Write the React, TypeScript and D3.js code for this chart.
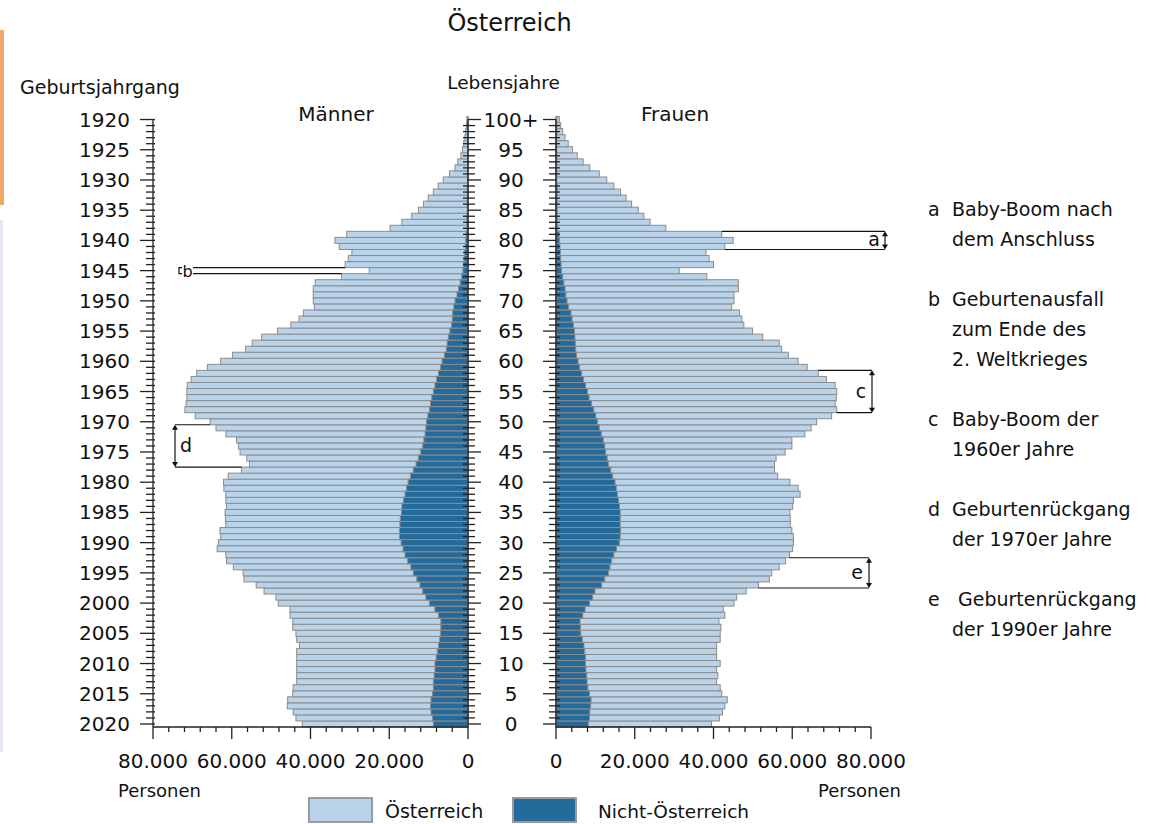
import React from 'react';
import * as d3 from 'd3';

// Ages 0..100 (100 = 100+)
const ages: number[] = d3.range(0, 101);

// Values in thousands of persons, index = age 0..100
const menTotal = [
  42.1, 43.7, 44.4, 45.9, 45.8, 44.5, 44.4, 43.5, 43.5, 43.5,
  43.5, 43.5, 43.5, 42.8, 43.5, 43.7, 44.5, 44.5, 45.2, 45.2,
  48.2, 48.8, 51.8, 53.8, 56.9, 57.1, 59.6, 61.3, 61.5, 63.7,
  63.4, 62.8, 63.0, 61.5, 61.6, 61.7, 61.3, 61.5, 61.5, 62.0,
  62.1, 60.9, 57.5, 55.5, 56.2, 57.9, 58.3, 58.8, 61.5, 64.0,
  65.5, 69.3, 71.9, 71.6, 71.4, 71.4, 71.3, 70.3, 68.9, 66.2,
  62.8, 59.8, 56.5, 54.8, 52.4, 48.4, 45.0, 42.9, 41.8, 39.0,
  39.3, 39.3, 39.3, 38.8, 32.1, 25.1, 31.2, 30.4, 29.5, 32.7,
  33.8, 30.8, 19.8, 16.8, 14.3, 12.6, 11.3, 10.1, 8.8, 7.6,
  6.3, 4.7, 3.3, 2.6, 1.8, 1.4, 1.1, 0.8, 0.6, 0.4, 0.3,
];
const menForeign = [
  8.8, 9.0, 9.4, 9.5, 9.4, 9.0, 8.8, 8.8, 8.6, 8.4,
  8.4, 8.1, 7.8, 7.5, 7.2, 7.0, 6.9, 6.9, 7.5, 8.4,
  9.8, 10.7, 11.5, 12.2, 13.0, 13.9, 14.5, 15.3, 16.0, 16.5,
  17.0, 17.4, 17.4, 17.3, 17.2, 16.9, 16.8, 16.4, 16.0, 15.6,
  15.2, 14.6, 13.9, 13.2, 12.6, 12.0, 11.5, 11.2, 10.9, 10.7,
  10.5, 10.2, 9.8, 9.5, 9.2, 8.8, 8.4, 8.0, 7.5, 7.0,
  6.6, 6.0, 5.5, 5.3, 5.0, 4.6, 4.2, 4.0, 3.9, 3.6,
  3.3, 2.8, 2.4, 2.0, 1.6, 1.3, 1.2, 1.0, 0.9, 0.7,
  0.6, 0.5, 0.3, 0.3, 0.3, 0.2, 0.2, 0.2, 0.2, 0.2,
  0.1, 0.1, 0.1, 0.1, 0.1, 0.1, 0.1, 0.1, 0.1, 0.1, 0.1,
];
const womenTotal = [
  39.5, 41.5, 42.3, 42.9, 43.5, 42.1, 41.7, 40.8, 41.1, 40.8,
  41.7, 40.8, 40.8, 40.8, 41.7, 41.7, 41.9, 41.4, 42.9, 42.5,
  45.2, 45.9, 48.3, 51.4, 54.2, 54.8, 56.7, 58.3, 59.3, 60.1,
  60.3, 60.3, 59.9, 59.5, 59.5, 59.4, 60.1, 60.3, 62.0, 61.5,
  59.4, 56.3, 55.5, 55.5, 55.9, 58.2, 59.9, 59.9, 63.2, 64.8,
  66.2, 70.0, 71.3, 70.9, 71.2, 71.3, 70.9, 68.7, 66.6, 63.8,
  61.5, 59.0, 57.3, 56.7, 52.5, 49.9, 47.7, 47.2, 46.6, 44.6,
  45.2, 45.2, 46.3, 46.3, 38.3, 31.3, 40.0, 38.9, 38.1, 42.9,
  45.0, 42.1, 27.9, 23.9, 22.3, 20.9, 19.2, 17.8, 16.4, 14.7,
  12.9, 11.0, 8.6, 6.9, 5.4, 4.2, 3.1, 2.3, 1.7, 1.2, 0.85,
];
const womenForeign = [
  8.2, 8.5, 8.6, 8.8, 8.9, 8.5, 8.1, 7.9, 7.8, 7.6,
  7.5, 7.5, 7.3, 7.1, 6.7, 6.3, 6.2, 6.1, 6.8, 7.4,
  8.5, 9.3, 9.9, 11.6, 12.4, 13.3, 13.7, 14.1, 14.7, 15.4,
  16.1, 16.3, 16.4, 16.3, 16.3, 16.3, 16.1, 15.9, 15.6, 15.3,
  15.0, 14.4, 13.9, 13.3, 13.0, 12.6, 12.4, 12.0, 11.5, 11.0,
  10.5, 10.1, 9.6, 9.0, 8.4, 8.0, 7.5, 7.0, 6.5, 6.0,
  5.6, 5.2, 5.0, 4.9, 4.8, 4.7, 4.4, 4.1, 3.8, 3.2,
  2.8, 2.5, 2.3, 2.0, 1.7, 1.4, 1.3, 1.2, 1.1, 1.0,
  0.9, 0.8, 0.4, 0.3, 0.3, 0.3, 0.3, 0.3, 0.3, 0.3,
  0.2, 0.2, 0.2, 0.2, 0.2, 0.2, 0.2, 0.2, 0.2, 0.2, 0.2,
];

const yearLabels = ['1920', '1925', '1930', '1935', '1940', '1945', '1950', '1955', '1960', '1965',
  '1970', '1975', '1980', '1985', '1990', '1995', '2000', '2005', '2010', '2015', '2020'];
const ageLabels = ['100+', '95', '90', '85', '80', '75', '70', '65', '60', '55',
  '50', '45', '40', '35', '30', '25', '20', '15', '10', '5', '0'];
const xTickValues = [80, 60, 40, 20, 0];
const xTickLabels = ['80.000', '60.000', '40.000', '20.000', '0'];

const title = 'Österreich';
const legendLabels = ['Österreich', 'Nicht-Österreich'];
const notes = [
  { key: 'a', lines: ['Baby-Boom nach', 'dem Anschluss'] },
  { key: 'b', lines: ['Geburtenausfall', 'zum Ende des', '2. Weltkrieges'] },
  { key: 'c', lines: ['Baby-Boom der', '1960er Jahre'] },
  { key: 'd', lines: ['Geburtenrückgang', 'der 1970er Jahre'] },
  { key: 'e', lines: [' Geburtenrückgang', 'der 1990er Jahre'] },
];
// brackets: side, ages spanned (from..to)
const brackets = [
  { key: 'a', side: 'F', from: 79, to: 81 },
  { key: 'b', side: 'M', from: 75, to: 75 },
  { key: 'c', side: 'F', from: 52, to: 58 },
  { key: 'd', side: 'M', from: 43, to: 49 },
  { key: 'e', side: 'F', from: 23, to: 27 },
];

const LIGHT = '#b9d3ea';
const DARK = '#246a9b';
const STROKE = '#8c8c8c';
const FONT = 'DejaVu Sans, sans-serif';

export default function App() {
  const W = 1158, H = 824;
  const y = d3.scaleBand<number>().domain([...ages].reverse()).range([116.5, 727]).padding(0);
  const bw = y.bandwidth();
  const cy = (a: number) => (y(a) as number) + bw / 2;
  const xM = d3.scaleLinear().domain([0, 80]).range([468, 153]);
  const xF = d3.scaleLinear().domain([0, 80]).range([556, 871]);
  const axisTop = cy(100);
  const axisBottom = 727;
  const minorX = d3.range(0, 80.001, 4);

  const bracketGeo: Record<string, { arrowX: number; labelX: number; tick?: boolean }> = {
    a: { arrowX: 885, labelX: 874 },
    b: { arrowX: 179, labelX: 187.5, tick: true },
    c: { arrowX: 872, labelX: 861 },
    d: { arrowX: 175, labelX: 186 },
    e: { arrowX: 869, labelX: 857 },
  };

  const arrowHead = (x: number, yy: number, dir: number) =>
    `M${x},${yy} L${x - 3},${yy + dir * 5} L${x + 3},${yy + dir * 5} Z`;

  // note block positions: each block takes its lines plus one blank line
  let cursor = 216;
  const noteY = notes.map((n) => {
    const v = cursor;
    cursor += (n.lines.length + 1) * 30;
    return v;
  });

  return (
    <svg width={W} height={H} style={{ position: 'absolute', left: 0, top: 0, background: '#fff' }}
      fontFamily={FONT}>
      {/* side strips */}
      <rect x={0} y={30} width={4} height={175} fill="#eea868" />
      <rect x={0} y={220} width={3} height={532} fill="#e1e8ef" />

      <text x={509.5} y={31} fontSize={24} textAnchor="middle" fill="#111">{title}</text>
      <text x={20} y={94} fontSize={19} fill="#111">Geburtsjahrgang</text>
      <text x={503.5} y={89} fontSize={18.5} textAnchor="middle" fill="#111">Lebensjahre</text>
      <text x={336} y={121} fontSize={20} textAnchor="middle" fill="#111">Männer</text>
      <text x={675} y={121} fontSize={20} textAnchor="middle" fill="#111">Frauen</text>

      {/* bars men */}
      <g>
        {ages.map((a) => (
          <rect key={'mt' + a} x={xM(menTotal[a])} y={y(a)} width={xM(0) - xM(menTotal[a])} height={bw}
            fill={LIGHT} stroke={STROKE} strokeWidth={1} />
        ))}
        {ages.map((a) => (
          <rect key={'mf' + a} x={xM(menForeign[a])} y={y(a)} width={xM(0) - xM(menForeign[a])} height={bw}
            fill={DARK} stroke={STROKE} strokeWidth={1} />
        ))}
      </g>
      {/* bars women */}
      <g>
        {ages.map((a) => (
          <rect key={'wt' + a} x={xF(0)} y={y(a)} width={xF(womenTotal[a]) - xF(0)} height={bw}
            fill={LIGHT} stroke={STROKE} strokeWidth={1} />
        ))}
        {ages.map((a) => (
          <rect key={'wf' + a} x={xF(0)} y={y(a)} width={xF(womenForeign[a]) - xF(0)} height={bw}
            fill={DARK} stroke={STROKE} strokeWidth={1} />
        ))}
      </g>

      {/* axes */}
      <g stroke="#222" strokeWidth={1.3}>
        <line x1={153} x2={153} y1={axisTop} y2={axisBottom} />
        <line x1={468} x2={468} y1={axisTop} y2={axisBottom} />
        <line x1={556} x2={556} y1={axisTop} y2={axisBottom} />
        {ages.map((a) => {
          const major = a % 5 === 0;
          const yy = cy(a);
          return (
            <g key={'t' + a}>
              <line x1={major ? 140 : 146} x2={155} y1={yy} y2={yy} />
              <line x1={major ? 468 : 463} x2={major ? 481 : 475} y1={yy} y2={yy} />
              <line x1={major ? 543 : 549} x2={major ? 556 : 560} y1={yy} y2={yy} />
            </g>
          );
        })}
        <line x1={153} x2={468} y1={axisBottom} y2={axisBottom} />
        <line x1={556} x2={871} y1={axisBottom} y2={axisBottom} />
        {minorX.map((v) => {
          const major = Math.abs(v % 20) < 1e-6;
          return (
            <g key={'x' + v}>
              <line x1={xM(v)} x2={xM(v)} y1={axisBottom} y2={axisBottom + (major ? 12 : 5)} />
              <line x1={xF(v)} x2={xF(v)} y1={axisBottom} y2={axisBottom + (major ? 12 : 5)} />
            </g>
          );
        })}
      </g>

      {/* tick labels */}
      <g fontSize={20} fill="#111">
        {yearLabels.map((lab, i) => (
          <text key={lab} x={130} y={cy(100 - i * 5) + 7} textAnchor="end">{lab}</text>
        ))}
        {ageLabels.map((lab, i) => (
          <text key={'a' + lab} x={511} y={cy(100 - i * 5) + 7} textAnchor="middle">{lab}</text>
        ))}
        {xTickValues.map((v, i) => (
          <text key={'xm' + v} x={xM(v)} y={768} textAnchor="middle">{xTickLabels[i]}</text>
        ))}
        {xTickValues.map((v, i) => (
          <text key={'xf' + v} x={xF(v)} y={768} textAnchor="middle">{xTickLabels[i]}</text>
        ))}
      </g>
      <text x={118} y={797} fontSize={18} fill="#111">Personen</text>
      <text x={818} y={797} fontSize={18} fill="#111">Personen</text>

      {/* brackets */}
      <g stroke="#111" strokeWidth={1.2} fill="none">
        {brackets.map((b) => {
          const g = bracketGeo[b.key];
          const yTop = y(b.to) as number;
          const yBot = (y(b.from) as number) + bw;
          const isF = b.side === 'F';
          const tot = isF ? womenTotal : menTotal;
          const sx = isF ? xF : xM;
          const topEnd = isF
            ? Math.max(sx(tot[b.to]), sx(tot[Math.min(100, b.to + 1)]))
            : Math.min(sx(tot[b.to]), sx(tot[Math.min(100, b.to + 1)]));
          const botEnd = isF
            ? Math.max(sx(tot[b.from]), sx(tot[Math.max(0, b.from - 1)]))
            : Math.min(sx(tot[b.from]), sx(tot[Math.max(0, b.from - 1)]));
          const lineStart = g.tick ? 193 : g.arrowX;
          return (
            <g key={b.key}>
              <line x1={lineStart} x2={topEnd} y1={yTop} y2={yTop} />
              <line x1={lineStart} x2={botEnd} y1={yBot} y2={yBot} />
              {g.tick ? (
                <path d={`M${g.arrowX + 3},${yTop} L${g.arrowX},${yTop} L${g.arrowX},${yBot} L${g.arrowX + 3},${yBot}`} />
              ) : (
                <>
                  <line x1={g.arrowX} x2={g.arrowX} y1={yTop + 3} y2={yBot - 3} />
                  <path d={arrowHead(g.arrowX, yTop, 1)} fill="#111" stroke="none" />
                  <path d={arrowHead(g.arrowX, yBot, -1)} fill="#111" stroke="none" />
                </>
              )}
            </g>
          );
        })}
      </g>
      <g fontSize={19} fill="#111" textAnchor="middle">
        {brackets.map((b) => {
          const g = bracketGeo[b.key];
          const yTop = y(b.to) as number;
          const yBot = (y(b.from) as number) + bw;
          return (
            <text key={'bl' + b.key} x={g.labelX} y={(yTop + yBot) / 2 + 6}
              fontSize={b.key === 'b' ? 16 : 19}>{b.key}</text>
          );
        })}
      </g>

      {/* notes */}
      <g fontSize={19} fill="#111">
        {notes.map((n, i) => {
          const y0 = noteY[i];
          return (
            <g key={'n' + n.key}>
              <text x={928} y={y0}>{n.key}</text>
              {n.lines.map((l, j) => (
                <text key={j} x={952} y={y0 + j * 30} style={{ whiteSpace: 'pre' }}>{l}</text>
              ))}
            </g>
          );
        })}
      </g>

      {/* legend */}
      <rect x={309} y={798} width={63} height={24} fill={LIGHT} stroke="#9a9a9a" strokeWidth={2} />
      <text x={385} y={818} fontSize={19} fill="#111">{legendLabels[0]}</text>
      <rect x={513} y={798} width={63} height={24} fill={DARK} stroke="#9a9a9a" strokeWidth={2} />
      <text x={598} y={818} fontSize={18.5} fill="#111">{legendLabels[1]}</text>
    </svg>
  );
}
